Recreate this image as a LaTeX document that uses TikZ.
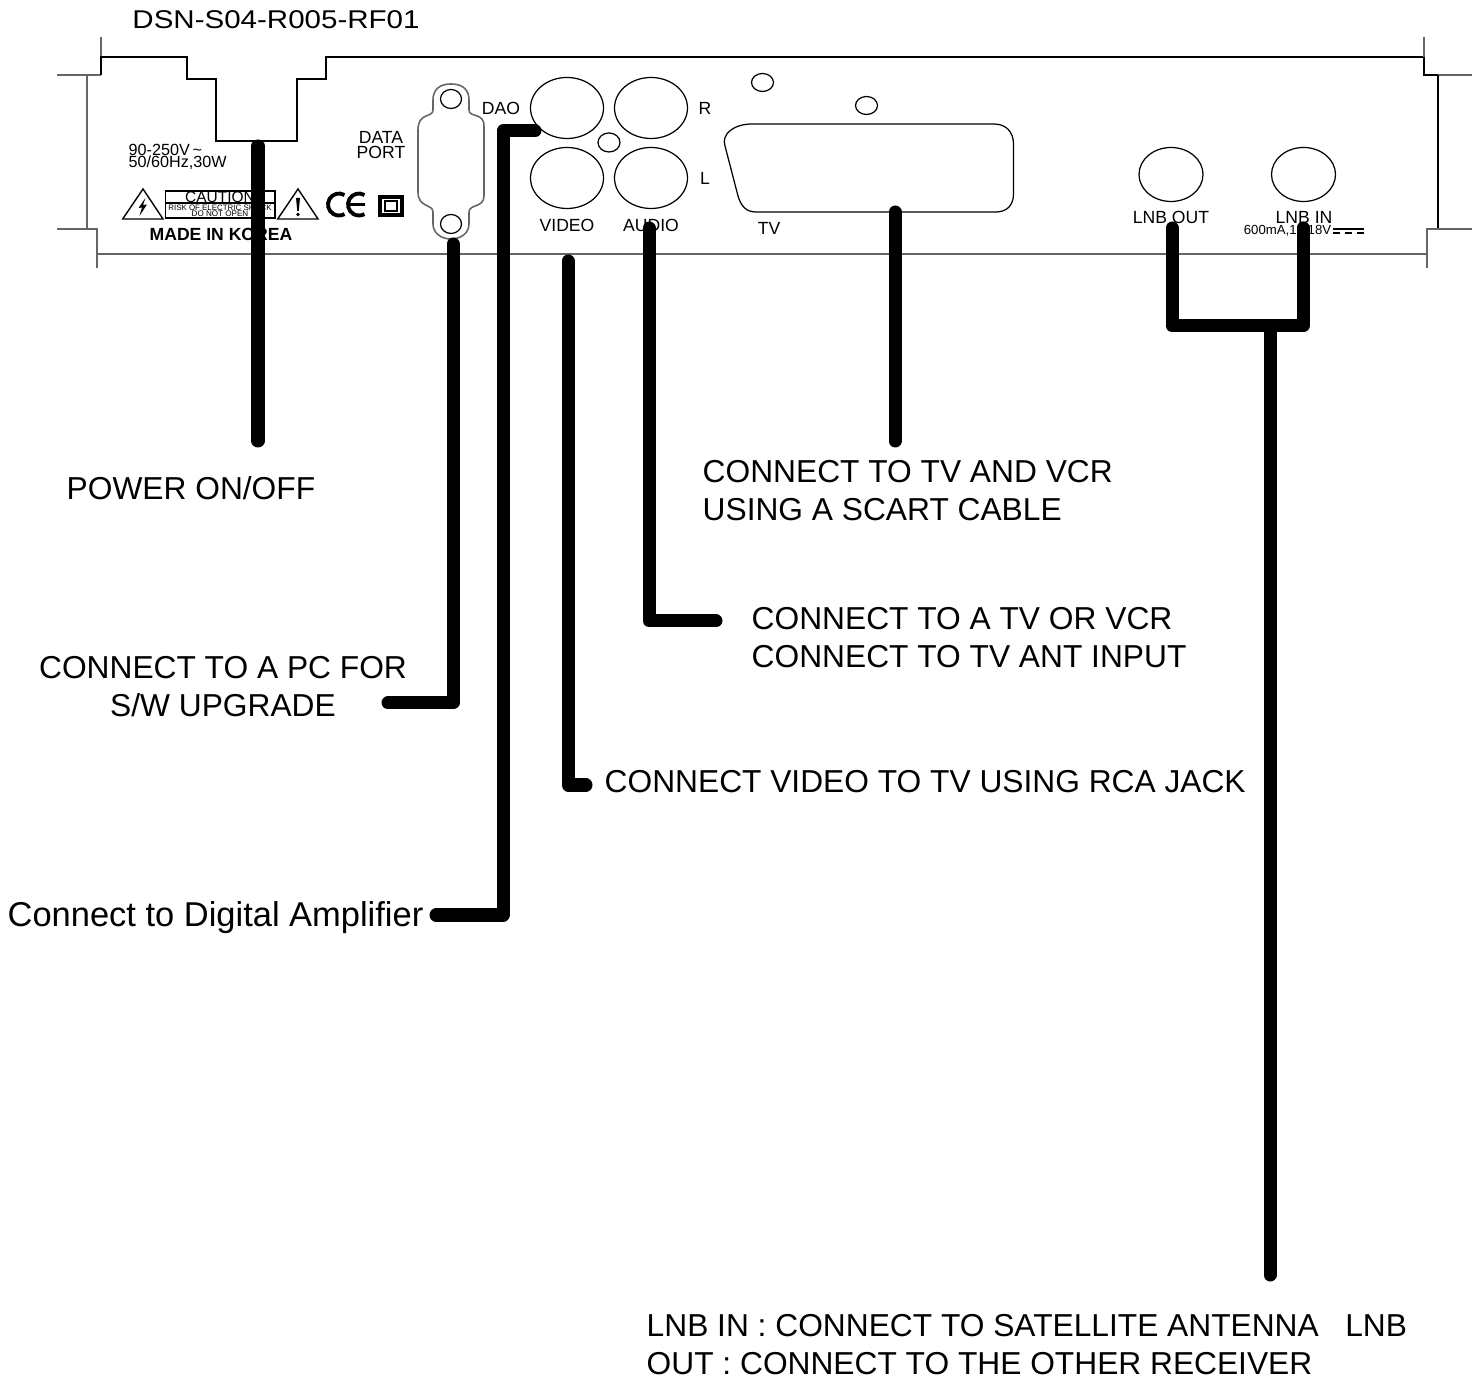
\documentclass[tikz,border=0pt]{standalone}
\usepackage{fontspec}
\usetikzlibrary{shapes.geometric}
\setmainfont{Liberation Sans}
\tikzset{
  panel/.style={draw=black,line width=0.4pt},
  panelgray/.style={draw=black!60,line width=0.45pt},
  wire/.style={draw=black,line width=3.7pt,line cap=round,line join=round},
  note/.style={inner sep=0pt,anchor=west,align=left,font=\fontsize{9.02}{10.8}\selectfont},
  tag/.style={inner sep=0pt,align=center,font=\fontsize{5}{4.4}\selectfont},
  socket/.style={draw=black,line width=0.35pt},
}
\begin{document}
\begin{tikzpicture}[x=0.01cm,y=-0.01cm]
\useasboundingbox (0,0) rectangle (1482,1377);

\path[panelgray] (101,37) -- (101,75);
\path[panelgray] (57,75) -- (101,75);
\path[panel] (101,75) -- (101,57) -- (187,57) -- (187,79) -- (216,79) -- (216,141) -- (297,141) -- (297,79) -- (326,79) -- (326,57) -- (1424,57) -- (1424,75) -- (1438,75);
\path[panelgray] (1438,75) -- (1472,75);
\path[panelgray] (1424,37) -- (1424,57);
\path[panelgray] (87,75) -- (87,229);
\path[panel] (1438,75) -- (1438,229);
\path[panelgray] (57,229) -- (97,229) -- (97,254) -- (1427,254) -- (1427,229) -- (1472,229);
\path[panelgray] (97,254) -- (97,268);
\path[panelgray] (1427,254) -- (1427,268);

\path[panelgray] (451,84) .. controls (439,84) and (433,90) .. (433,100) -- (433,110) .. controls (433,118) and (418,112) .. (418,130) -- (418,192) .. controls (418,208) and (433,204) .. (433,212) -- (433,224) .. controls (433,233) and (441,239) .. (451,239) .. controls (461,239) and (469,233) .. (469,224) -- (469,212) .. controls (469,204) and (484,208) .. (484,196) -- (484,126) .. controls (484,112) and (469,118) .. (469,110) -- (469,100) .. controls (469,90) and (463,84) .. (451,84) -- cycle;
\node[socket,ellipse,minimum width=0.21cm,minimum height=0.19cm,inner sep=0pt] (screwtop) at (451,99) {};
\node[socket,ellipse,minimum width=0.21cm,minimum height=0.19cm,inner sep=0pt] (screwbottom) at (451,224) {};

\draw[socket] (567,108) ellipse (36.5 and 30.5);
\draw[socket] (651,108) ellipse (36.5 and 30.5);
\draw[socket] (567,178) ellipse (36.5 and 30.5);
\draw[socket] (651,178) ellipse (36.5 and 30.5);
\draw[socket] (609,142.5) ellipse (11 and 9.5);
\draw[socket] (762.5,82.5) ellipse (11 and 9);
\draw[socket] (866.5,105.5) ellipse (11 and 9);
\draw[socket] (1171,174.5) ellipse (32 and 27);
\draw[socket] (1303.5,174.5) ellipse (32 and 27);
\path[socket] (752,124) -- (994,124) .. controls (1006,124) and (1013.5,132) .. (1013.5,144) -- (1013.5,194) .. controls (1013.5,206) and (1006,212) .. (996,212) -- (756,212) .. controls (746,212) and (741,206) .. (738,196) -- (725,146) .. controls (721,134) and (734,124) .. (752,124) -- cycle;

\path[panel] (122.7,219) -- (143,189) -- (163,219) -- cycle;
\path[panel] (277.7,219) -- (298,189) -- (318,219) -- cycle;
\fill (145.5,198) -- (138.5,208) -- (142,207.5) -- (139.5,216) -- (147,204.5) -- (143,205) -- cycle;
\fill (296,198) -- (300,198) -- (298.7,211) -- (297.3,211) -- cycle;
\fill (298,214.5) circle (1.9);
\path[draw=black,line width=0.5pt] (165.5,191) rectangle (275,218);
\path[draw=black,line width=0.7pt] (165.5,203) -- (275,203);
\path[draw=black,line width=1.1pt] (344.5,195) arc[start angle=-60,end angle=-300,radius=11];
\path[draw=black,line width=1.1pt] (364.5,195) arc[start angle=-60,end angle=-300,radius=11];
\path[draw=black,line width=0.8pt] (348,204.5) -- (365,204.5);
\path[draw=black,line width=0.9pt] (380,197) rectangle (402,215);
\path[draw=black,line width=0.6pt] (385,201) rectangle (397,211);

\node[inner sep=0pt,font=\fontsize{7.3}{9}\selectfont,xscale=1.15,transform shape] (model) at (276,19.5) {DSN-S04-R005-RF01};
\node[tag,align=left,anchor=west,font=\fontsize{4.6}{3.4}\selectfont] (rating) at (128,156.5) {90-250V\,\textasciitilde\\50/60Hz,30W};
\node[tag,font=\fontsize{4.4}{5}\selectfont] (caution) at (220,197) {CAUTION};
\node[tag,font=\fontsize{2.25}{3}\selectfont] (risk) at (220,208) {RISK OF ELECTRIC SHOCK};
\node[tag,font=\fontsize{2.3}{3}\selectfont] (noopen) at (220,214) {DO NOT OPEN};
\node[tag,font=\fontsize{5}{6}\selectfont\bfseries] (korea) at (221,234) {MADE IN KOREA};
\node[tag] (dataport) at (381,145) {DATA\\PORT};
\node[tag] (dao) at (501,108) {DAO};
\node[tag] (rightch) at (705,108) {R};
\node[tag] (leftch) at (705,178) {L};
\node[tag] (videotag) at (567,225) {VIDEO};
\node[tag] (audiotag) at (651,225) {AUDIO};
\node[tag] (tvtag) at (769,228) {TV};
\node[tag] (lnbouttag) at (1171,217) {LNB OUT};
\node[tag] (lnbintag) at (1304,217) {LNB IN};
\node[tag,font=\fontsize{3.75}{4}\selectfont] (lnbpower) at (1287.5,231) {600mA,13/18V};
\path[draw=black,line width=0.35pt] (1333,229) -- (1364,229);
\path[draw=black,line width=0.35pt] (1333,233) -- (1340,233);
\path[draw=black,line width=0.35pt] (1345,233) -- (1352,233);
\path[draw=black,line width=0.35pt] (1357,233) -- (1364,233);

\node[note] (powerlabel) at (66,488) {POWER ON/OFF};
\node[note] (scartlabel) at (702,491) {CONNECT TO TV AND VCR\\USING A SCART CABLE};
\node[note] (audiolabel) at (751,638) {CONNECT TO A TV OR VCR\\CONNECT TO TV ANT INPUT};
\node[note,align=center,anchor=center] (pclabel) at (223,687) {CONNECT TO A PC FOR\\S/W UPGRADE};
\node[note] (videolabel) at (604,782) {CONNECT VIDEO TO TV USING RCA JACK};
\node[note,font=\fontsize{9.8}{11}\selectfont] (amplabel) at (7,918) {Connect to Digital Amplifier};
\node[note] (lnblabel) at (646,1345) {LNB IN : CONNECT TO SATELLITE ANTENNA \ \ LNB\\OUT : CONNECT TO THE OTHER RECEIVER};

\coordinate (powertop) at (258,146);
\coordinate (powerend) at (258,441);
\coordinate (pctop) at (453,244);
\coordinate (pcend) at (388,703);
\coordinate (daotop) at (535,131);
\coordinate (daoend) at (436,915);
\coordinate (daobend) at (503,131);
\coordinate (videotop) at (568,261);
\coordinate (videoend) at (586,785);
\coordinate (audiotop) at (649,228);
\coordinate (audioend) at (716,621);
\coordinate (tvtop) at (895,212);
\coordinate (tvend) at (895,441);
\coordinate (lnbout) at (1172,228);
\coordinate (lnbin) at (1303,228);
\coordinate (lnbjoin) at (1270,326);
\coordinate (lnbend) at (1270,1275);

\path[wire] (powertop) -- (powerend);
\path[wire] (pctop) |- (pcend);
\path[wire] (daotop) -- (daobend) |- (daoend);
\path[wire] (videotop) |- (videoend);
\path[wire] (audiotop) |- (audioend);
\path[wire] (tvtop) -- (tvend);
\path[wire] (lnbout) |- (lnbjoin) -| (lnbin);
\path[wire] (lnbjoin) -- (lnbend);
\end{tikzpicture}
\end{document}
